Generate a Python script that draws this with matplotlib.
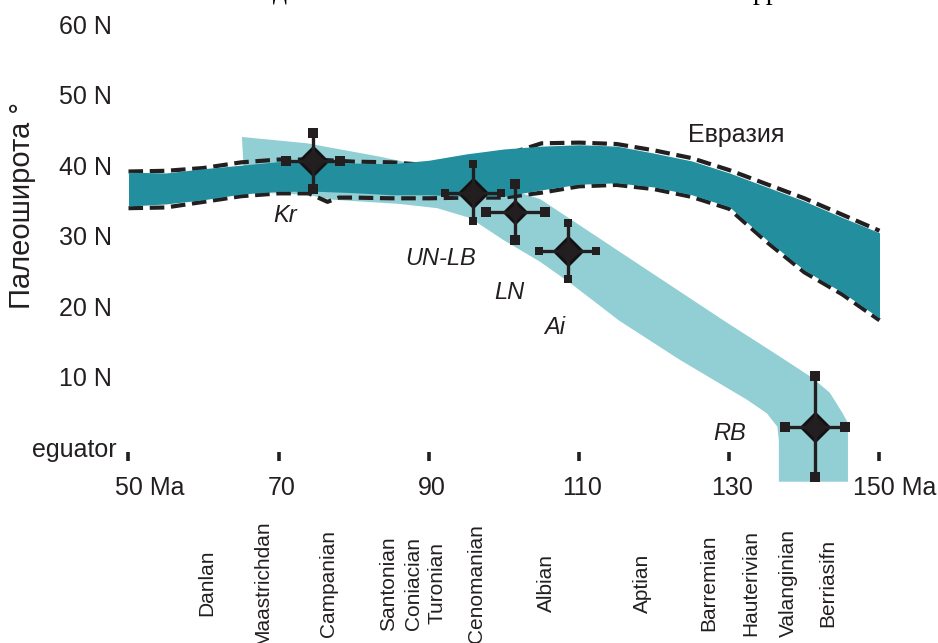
import numpy as np
import matplotlib.pyplot as plt

plt.rcParams['font.family'] = ['Liberation Sans', 'DejaVu Sans']

# Eurasia paleolatitude corridor (age in Ma, latitude in degrees N)
eur_age = [50, 55, 60, 65, 70, 75, 80, 85, 90, 95, 100, 105, 110, 115, 120, 125, 130, 135, 140, 145, 150]
eur_top = [39.4, 39.3, 39.9, 40.4, 40.9, 41.0, 40.7, 40.6, 41.1, 42.0, 42.7, 43.1, 43.3, 43.1, 42.1, 41.0, 39.3, 37.3, 35.3, 33.0, 30.8]
eur_bottom = [34.6, 34.9, 35.5, 36.3, 36.7, 36.7, 36.5, 36.2, 36.2, 36.0, 36.0, 36.9, 37.7, 37.9, 37.3, 36.2, 34.5, 29.8, 25.5, 22.4, 18.7]

# dashed envelope lines around the Eurasia corridor
dash_top_age = eur_age
dash_top_lat = [39.5, 39.6, 40.0, 40.8, 41.2, 41.2, 40.9, 40.8, 40.4, 40.6, 41.8, 43.5, 43.6, 43.4, 42.5, 41.4, 39.7, 37.7, 35.7, 33.4, 31.1]
dash_bot_age = [50, 55, 60, 65, 70, 74, 76.5, 78, 80, 85, 90, 95, 100, 105, 110, 115, 120, 125, 130, 135, 140, 145, 150]
dash_bot_lat = [34.3, 34.4, 35.2, 36.0, 36.4, 36.4, 35.2, 35.8, 35.8, 35.7, 35.7, 35.8, 35.8, 36.5, 37.4, 37.6, 37.0, 35.9, 34.2, 29.5, 25.2, 22.1, 18.4]

# local path (light band), upper and lower outline
path_top_age = [65.1, 73.8, 83.5, 87.5, 95.5, 102.1, 104.8, 117.7, 129.2, 136.8, 141.1, 143.4, 145.1, 145.8, 145.8]
path_top_lat = [44.4, 43.5, 41.6, 40.7, 38.6, 36.5, 35.6, 26.5, 18.4, 13.2, 10.2, 8.1, 5.2, 3.8, -4.5]
path_bot_age = [65.5, 73.8, 77.2, 86.1, 91.1, 95.5, 99.9, 104.8, 108.8, 115.4, 123.4, 132.4, 135.0, 136.4, 136.6, 136.6]
path_bot_lat = [36.6, 36.2, 35.5, 34.9, 34.3, 32.9, 29.8, 26.7, 23.7, 18.3, 12.8, 7.1, 5.2, 3.3, 1.4, -4.5]

# paleomagnetic poles: age, latitude, age error, latitude error
site_names = ['Kr', 'UN-LB', 'LN', 'Ai', 'RB']
site_age = [74.6, 95.9, 101.5, 108.5, 141.4]
site_lat = [41.0, 36.5, 33.8, 28.2, 3.3]
site_age_err = [3.6, 3.7, 3.9, 3.8, 4.0]
site_lat_err = [4.0, 4.0, 4.0, 4.0, 7.2]

lat_ticks = [0, 10, 20, 30, 40, 50, 60]
lat_labels = ['eguator', '10 N', '20 N', '30 N', '40 N', '50 N', '60 N']
age_ticks = [50, 70, 90, 110, 130, 150]
age_labels = ['50 Ma', '70', '90', '110', '130', '150 Ma']

stages = ['Danlan', 'Maastrichdan', 'Campanian', 'Santonian', 'Coniacian', 'Turonian',
          'Cenomanian', 'Albian', 'Aptian', 'Barremian', 'Hauterivian', 'Valanginian', 'Berriasifn']
stage_age = [60.4, 67.9, 76.6, 84.6, 87.9, 91.1, 96.4, 105.7, 118.4, 127.2, 132.8, 137.9, 143.1]

ink = '#231f20'
dark = '#228e9e'
light = '#92cfd4'

fig = plt.figure(figsize=(9.38, 6.43), dpi=100)
ax = fig.add_axes([0, 0, 1, 1])
ax.set_xlim(32.89, 157.79)
ax.set_ylim(-27.38, 63.83)
ax.axis('off')

# light band under everything
ax.fill(np.r_[path_top_age, path_bot_age[::-1]], np.r_[path_top_lat, path_bot_lat[::-1]],
        color=light, lw=0, zorder=1)

ax.plot(dash_top_age, dash_top_lat, color=ink, lw=3, dashes=(3.5, 1.6), zorder=2)
ax.plot(dash_bot_age, dash_bot_lat, color=ink, lw=3, dashes=(3.5, 1.6), zorder=2)

ax.fill_between(eur_age, eur_bottom, eur_top, color=dark, lw=0, zorder=3)

# poles: diamond, cross and square caps
diamond_size = [14, 14, 11, 14, 14.5]
cap_size = [6.5, 6, 7.7, 5.5, 6.5]
for i in range(len(site_names)):
    x, y = site_age[i], site_lat[i]
    dx, dy = site_age_err[i], site_lat_err[i]
    ax.plot(x, y, marker='D', ms=diamond_size[i], mfc='#221e1f', mec='#141112', mew=2, zorder=5)
    ax.errorbar(x, y, xerr=dx, yerr=dy, fmt='none', ecolor=ink, elinewidth=2.4, capsize=0, zorder=6)
    ax.plot([x - dx, x + dx, x, x], [y, y, y - dy, y + dy], 's', ms=cap_size[i],
            color=ink, mew=0, zorder=6)

# site names
name_pos = [(70.8, 33.3), (91.5, 27.1), (100.7, 22.3), (106.8, 17.4), (130.1, 2.4)]
for name, (x, y) in zip(site_names, name_pos):
    ax.text(x, y, name, style='italic', fontsize=17, color=ink, ha='center', va='center', zorder=7)

ax.text(130.9, 44.7, 'Евразия', fontsize=18, color=ink, ha='center', va='center', zorder=7)

# latitude labels
for lat, lab in zip(lat_ticks, lat_labels):
    xpos = 48.4 if lat == 0 else 47.85
    ax.text(xpos, lat, lab, fontsize=18, color=ink, ha='right', va='center')

# age ticks and labels
ax.vlines(age_ticks, -1.56, -0.3, color=ink, lw=2.6)
for age, lab in zip(age_ticks, age_labels):
    if lab.endswith('Ma'):
        xpos = 48.2 if age == 50 else 146.45
        ax.text(xpos, -5.4, lab, fontsize=18, color=ink, ha='left', va='center')
    else:
        ax.text(age + 0.4, -5.4, lab, fontsize=18, color=ink, ha='center', va='center')

ax.text(35.8, 34.75, 'Палеоширота °', fontsize=21, color=ink, rotation=90,
        ha='center', va='center')

# stage names along the time axis
for name, age in zip(stages, stage_age):
    ax.text(age, -18.9, name, fontsize=15, color=ink, rotation=90, ha='center', va='center')

# tail of the caption line above the figure
fig.text(280 / 938, 1 + 1 / 643, 'д', family='Liberation Serif', fontsize=20, color='black',
         ha='center', va='baseline')
fig.text(766 / 938, 1 + 1 / 643, 'рр', family='Liberation Serif', fontsize=20, color='black',
         ha='center', va='baseline')

fig.savefig('out.png', dpi=100)
